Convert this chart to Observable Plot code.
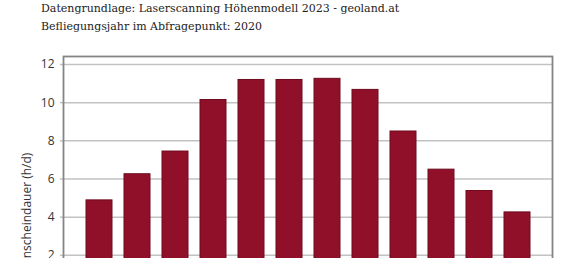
<!DOCTYPE html>
<html>
<head>
<meta charset="utf-8">
<script src="https://cdn.jsdelivr.net/npm/d3@7"></script>
<script src="https://cdn.jsdelivr.net/npm/@observablehq/plot@0.6"></script>
<style>
  html, body { margin: 0; padding: 0; background: #fff; }
  #titles { font-family: "DejaVu Serif", serif; font-size: 11px; color: #222; padding: 0 0 0 41px; height: 38px; box-sizing: border-box; }
  #titles div { line-height: 17.5px; white-space: nowrap; }
</style>
</head>
<body>
<div id="titles">
  <div>Datengrundlage: Laserscanning Höhenmodell 2023 - geoland.at</div>
  <div>Befliegungsjahr im Abfragepunkt: 2020</div>
</div>
<div id="chart"></div>
<script>
const months = ["Jan", "Feb", "Mär", "Apr", "Mai", "Jun", "Jul", "Aug", "Sep", "Okt", "Nov", "Dez"];
const sunshine = [4.88, 6.25, 7.44, 10.14, 11.19, 11.19, 11.25, 10.67, 8.49, 6.49, 5.37, 4.25];
const yTicks = [0, 2, 4, 6, 8, 10, 12];
const yLabel = "Sonnenscheindauer (h/d)";

const data = months.map((m, i) => ({month: m, value: sunshine[i]}));

const chart = Plot.plot({
  width: 579,
  height: 311,
  marginTop: 18,
  marginBottom: 56,
  marginLeft: 63,
  marginRight: 27,
  style: {fontFamily: "'Open Sans', sans-serif", fontSize: "12px", color: "#333"},
  x: {domain: months, paddingInner: 0.316, paddingOuter: 0.59, axis: null},
  y: {domain: [0, 12.42]},
  marks: [
    Plot.gridY(yTicks, {stroke: "#c2c2c2", strokeOpacity: 1, strokeWidth: 1.5}),
    Plot.axisY(yTicks, {
      tickSize: 3, tickPadding: 6, stroke: "#c2c2c2", strokeWidth: 1.5,
      label: null, fontSize: 12
    }),
    Plot.text([yLabel], {
      text: d => d, frameAnchor: "bottom-left", rotate: -90, textAnchor: "start",
      lineAnchor: "middle", dx: -36, fontSize: 12, fill: "#333"
    }),
    Plot.barY(data, {x: "month", y: "value", fill: "#8f1028", stroke: "#6e0b1e", strokeWidth: 1}),
    Plot.frame({stroke: "#858585", strokeWidth: 1.8})
  ]
});
document.getElementById("chart").appendChild(chart);
</script>
</body>
</html>
